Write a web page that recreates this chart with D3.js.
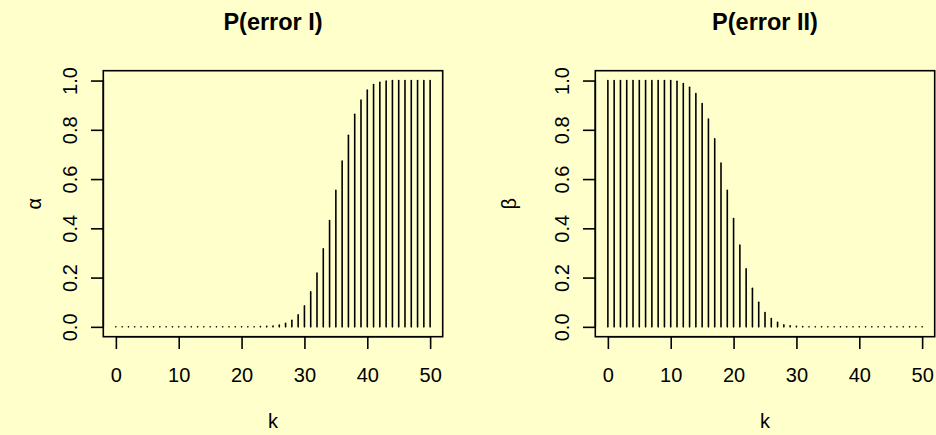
<!DOCTYPE html>
<html>
<head>
<meta charset="utf-8">
<script src="https://cdn.jsdelivr.net/npm/d3@7"></script>
<style>
  html, body { margin: 0; padding: 0; background: #ffffcc; }
  svg { display: block; }
  text { font-family: "Liberation Sans", Arial, sans-serif; fill: #000; }
</style>
</head>
<body>
<script>
// k = 0..50
var ks = d3.range(0, 51);

// P(error I)
var alpha = [
  0, 0, 0, 0, 0, 0, 0, 0, 0, 0,
  0, 0, 0, 0, 0, 0, 0, 0, 0, 0,
  0, 0, 0.0005, 0.001, 0.002, 0.003, 0.007, 0.014, 0.027, 0.049,
  0.085, 0.142, 0.218, 0.317, 0.432, 0.554, 0.673, 0.778, 0.863, 0.921,
  0.961, 0.984, 0.993, 0.998, 1, 1, 1, 1, 1, 1,
  1
];

// P(error II)
var beta = [
  1, 1, 1, 1, 1, 1, 1, 1, 1, 1,
  1, 0.997, 0.988, 0.973, 0.947, 0.907, 0.844, 0.764, 0.665, 0.554,
  0.440, 0.332, 0.236, 0.157, 0.100, 0.058, 0.034, 0.018, 0.008, 0.004,
  0.002, 0.001, 0, 0, 0, 0, 0, 0, 0, 0,
  0, 0, 0, 0, 0, 0, 0, 0, 0, 0,
  0
];

var xTicks = [0, 10, 20, 30, 40, 50];
var yTicks = [0, 0.2, 0.4, 0.6, 0.8, 1.0];
var titles = ["P(error I)", "P(error II)"];
var yLabels = ["\u03b1", "\u03b2"];
var xLabel = "k";

var width = 936, height = 435;

var svg = d3.select("body").append("svg")
    .attr("width", width)
    .attr("height", height);

svg.append("rect")
    .attr("width", width)
    .attr("height", height)
    .attr("fill", "#ffffcc");

var panels = [
  {left: 103.3, right: 442.7, values: alpha, title: titles[0], ylab: yLabels[0], ylabX: 35},
  {left: 595.3, right: 934.7, values: beta, title: titles[1], ylab: yLabels[1], ylabX: 510}
];
var plotTop = 70.7, plotBottom = 336.7;
var lw = 1.6, tickLen = 12.3;

panels.forEach(function(p) {
  // R style 4% axis extension
  var x = d3.scaleLinear().domain([-2, 52]).range([p.left, p.right]);
  var y = d3.scaleLinear().domain([-0.04, 1.04]).range([plotBottom, plotTop]);

  var g = svg.append("g");

  // type = "h" bars
  g.selectAll("line.bar")
    .data(ks)
    .enter().append("line")
      .attr("class", "bar")
      .attr("x1", function(d) { return x(d); })
      .attr("x2", function(d) { return x(d); })
      .attr("y1", y(0))
      .attr("y2", function(d) { return y(p.values[d]); })
      .attr("stroke", "#000")
      .attr("stroke-width", lw)
      .attr("stroke-linecap", "round");

  // box
  g.append("rect")
      .attr("x", p.left)
      .attr("y", plotTop)
      .attr("width", p.right - p.left)
      .attr("height", plotBottom - plotTop)
      .attr("fill", "none")
      .attr("stroke", "#000")
      .attr("stroke-width", lw);

  // x axis
  var xa = g.append("g")
      .attr("transform", "translate(0," + plotBottom + ")")
      .call(d3.axisBottom(x).tickValues(xTicks).tickSize(tickLen).tickSizeOuter(0));
  xa.select(".domain")
      .attr("d", "M" + x(xTicks[0]) + ",0H" + x(xTicks[xTicks.length - 1]))
      .attr("stroke-width", lw);
  xa.selectAll(".tick line").attr("stroke-width", lw);
  xa.selectAll(".tick text")
      .attr("font-size", 20)
      .attr("font-family", "Liberation Sans, Arial, sans-serif")
      .attr("dy", null)
      .attr("y", 45);

  // y axis
  var ya = g.append("g")
      .attr("transform", "translate(" + p.left + ",0)")
      .call(d3.axisLeft(y).tickValues(yTicks).tickSize(tickLen).tickFormat(d3.format(".1f")).tickSizeOuter(0));
  ya.select(".domain")
      .attr("d", "M0," + y(yTicks[0]) + "V" + y(yTicks[yTicks.length - 1]))
      .attr("stroke-width", lw);
  ya.selectAll(".tick line").attr("stroke-width", lw);
  ya.selectAll(".tick text")
      .attr("font-size", 20)
      .attr("font-family", "Liberation Sans, Arial, sans-serif")
      .attr("x", null)
      .attr("dy", null)
      .attr("text-anchor", "middle")
      .attr("transform", "translate(-26,0) rotate(-90)");

  // title
  g.append("text")
      .attr("x", (p.left + p.right) / 2)
      .attr("y", 29.5)
      .attr("text-anchor", "middle")
      .attr("font-size", 23.5)
      .attr("font-weight", "bold")
      .text(p.title);

  // axis labels
  g.append("text")
      .attr("x", (p.left + p.right) / 2)
      .attr("y", 428)
      .attr("text-anchor", "middle")
      .attr("font-size", 20)
      .text(xLabel);

  g.append("text")
      .attr("transform", "translate(" + (p.ylabX + 6) + "," + ((plotTop + plotBottom) / 2) + ") rotate(-90)")
      .attr("text-anchor", "middle")
      .attr("font-size", 20)
      .text(p.ylab);
});
</script>
</body>
</html>
